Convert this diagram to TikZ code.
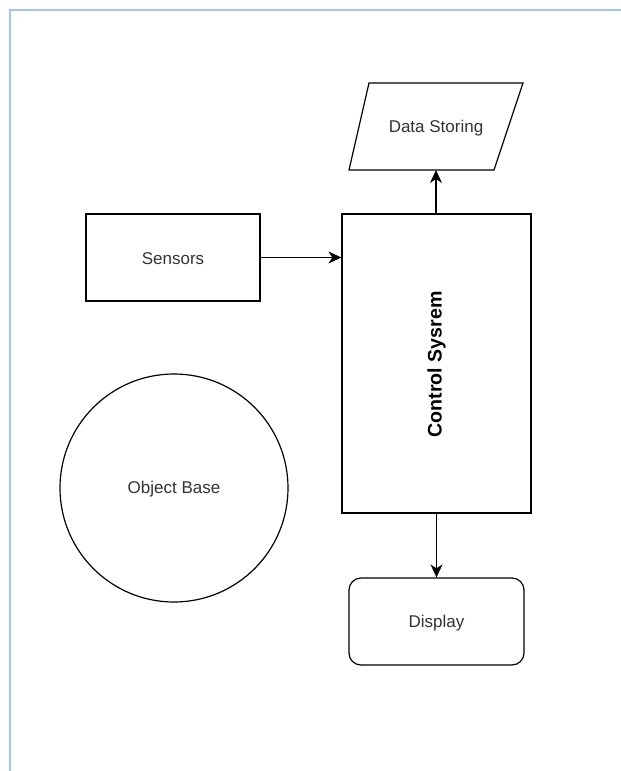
\documentclass[tikz,border=0pt]{standalone}
\usepackage{fontspec}
\setmainfont{Liberation Sans}
\usetikzlibrary{arrows.meta,shapes.geometric}
\definecolor{frameblue}{RGB}{164,198,232}
\definecolor{textgray}{RGB}{51,51,51}
\tikzset{
  lbl/.style={font=\fontsize{17}{20}\selectfont, text=textgray, yshift=-1.5pt},
  shp/.style={draw, line width=1.2pt, inner sep=0pt},
  conn/.style={line width=1.5pt, -{Stealth[length=13pt,width=12pt,inset=4pt]}},
}
\begin{document}
\begin{tikzpicture}[x=1pt,y=-1pt]
  \useasboundingbox (0,0) rectangle (621,771);
  \fill[white] (0,0) rectangle (621,771);
  % page frame
  \draw[frameblue, line width=2.2pt] (10,771) -- (10,10) -- (621,10);

  % boxes
  \node[shp, minimum width=174pt, minimum height=87pt] (sensors) at (173,257.5) {};
  \node[lbl] at (sensors.center) {Sensors};
  \node[shp, minimum width=189pt, minimum height=299pt] (ctrl) at (436.5,363.5) {};
  \node[rotate=90, font=\bfseries\fontsize{19.6}{22}\selectfont, xshift=-1pt] (ctrltxt) at (ctrl.center) {Control Sysrem};
  \node[shp, circle, minimum size=228pt] (obj) at (174,488) {};
  \node[lbl] at (obj.center) {Object Base};
  \node[shp, rounded corners=12pt, minimum width=175pt, minimum height=87pt] (disp) at (436.5,621.5) {};
  \node[lbl] at (disp.center) {Display};

  % data storing parallelogram
  \coordinate (ds1) at (369,83);
  \coordinate (ds2) at (523,83);
  \coordinate (ds3) at (494,170);
  \coordinate (ds4) at (349,170);
  \draw[line width=1.2pt, line join=miter] (ds1) -- (ds2) -- (ds3) -- (ds4) -- cycle;
  \node[lbl] (ds) at (436,127) {Data Storing};
  \coordinate (dsb) at (436,170);

  % connectors
  \draw[conn] (sensors.east) -- (ctrl.west |- sensors.east);
  \draw[conn] (ctrl.north -| dsb) -- (dsb);
  \draw[conn] (ctrl.south) -- (disp.north);
\end{tikzpicture}
\end{document}
